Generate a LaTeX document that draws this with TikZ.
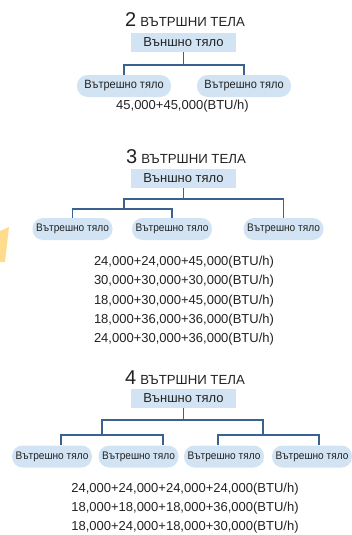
\documentclass[tikz,border=0pt]{standalone}
\usepackage{fontspec}
\setmainfont{Liberation Sans}
\newfontfamily\narrowfont[FakeStretch=0.92]{Liberation Sans}
\definecolor{boxblue}{HTML}{D2E4F4}
\definecolor{linkblue}{HTML}{3A6190}
\definecolor{txt}{HTML}{222222}
\tikzset{
  outbox/.style={fill=boxblue, minimum width=105pt, minimum height=19pt, inner sep=0pt,
    text=txt, font=\fontsize{13}{14}\selectfont},
  unit/.style={fill=boxblue, rounded corners=10.5pt, minimum height=22pt, minimum width=80pt,
    inner sep=0pt, text=txt, font=\narrowfont\fontsize{11}{13}\selectfont},
  unitbig/.style={unit, minimum width=94pt, font=\narrowfont\fontsize{12}{14}\selectfont},
  conn/.style={draw=linkblue, line width=1.1pt},
  ttl/.style={anchor=base, inner sep=0pt, text=txt},
  captxt/.style={anchor=base, inner sep=0pt, text=txt, font=\fontsize{13}{15}\selectfont}
}
\newcommand{\ttlx}[1]{{\fontsize{20}{21}\selectfont #1}\hspace{4pt}{\fontsize{13.2}{14}\selectfont ВЪТРШНИ ТЕЛА}}
\begin{document}
\begin{tikzpicture}[x=1pt,y=-1pt]
\useasboundingbox (0,0) rectangle (351,535);
% decorative fragment
\fill[orange!60!yellow, opacity=0.45] (0,231) -- (9,227) -- (5,262) -- (0,262) -- cycle;

% ---- 2 units
\node[ttl] (t2) at (185,27) {\ttlx{2}};
\node[outbox] (b2) at (183.5,42.5) {Външно тяло};
\node[unitbig] (u21) at (124,86) {Вътрешно тяло};
\node[unitbig] (u22) at (244,86) {Вътрешно тяло};
\coordinate (s2) at (183.5,65);
\draw[conn] (b2.south) -- (s2);
\draw[conn] (u21.north) |- (s2) -| (u22.north);
\node[captxt] (c2) at (182.5,109) {45,000+45,000(BTU/h)};

% ---- 3 units
\node[ttl] (t3) at (186,163) {\ttlx{3}};
\node[outbox] (b3) at (183.5,178.5) {Външно тяло};
\node[unit] (u31) at (72.5,229) {Вътрешно тяло};
\node[unit] (u32) at (172,229) {Вътрешно тяло};
\node[unit] (u33) at (283.5,229) {Вътрешно тяло};
\coordinate (s3) at (183.5,199);
\coordinate (s3l) at (124,209);
\draw[conn] (b3.south) -- (s3);
\draw[conn] (s3l) |- (s3 -| u33.north) -- (u33.north);
\draw[conn] (u31.north) |- (s3l) -| (u32.north);
\node[captxt] (c31) at (184,265) {24,000+24,000+45,000(BTU/h)};
\node[captxt] (c32) at (184,284.5) {30,000+30,000+30,000(BTU/h)};
\node[captxt] (c33) at (184,304) {18,000+30,000+45,000(BTU/h)};
\node[captxt] (c34) at (184,323) {18,000+36,000+36,000(BTU/h)};
\node[captxt] (c35) at (184,342) {24,000+30,000+36,000(BTU/h)};

% ---- 4 units
\node[ttl] (t4) at (185,384) {\ttlx{4}};
\node[outbox] (b4) at (183.5,398.5) {Външно тяло};
\node[unit] (u41) at (52,456.5) {Вътрешно тяло};
\node[unit] (u42) at (138.5,456.5) {Вътрешно тяло};
\node[unit] (u43) at (224,456.5) {Вътрешно тяло};
\node[unit] (u44) at (312,456.5) {Вътрешно тяло};
\coordinate (s4) at (183.5,420);
\coordinate (j4l) at (102,435);
\coordinate (j4r) at (263,435);
\coordinate (k1) at (61,435);
\coordinate (k2) at (163,435);
\coordinate (k3) at (218,435);
\coordinate (k4) at (319,435);
\draw[conn] (b4.south) -- (s4);
\draw[conn] (j4l) |- (s4) -| (j4r);
\draw[conn] (k1 |- u41.north) -- (k1) -- (k2) -- (k2 |- u42.north);
\draw[conn] (k3 |- u43.north) -- (k3) -- (k4) -- (k4 |- u44.north);
\node[captxt] (c41) at (185,492) {24,000+24,000+24,000+24,000(BTU/h)};
\node[captxt] (c42) at (185,511) {18,000+18,000+18,000+36,000(BTU/h)};
\node[captxt] (c43) at (185,530) {18,000+24,000+18,000+30,000(BTU/h)};
\end{tikzpicture}
\end{document}
